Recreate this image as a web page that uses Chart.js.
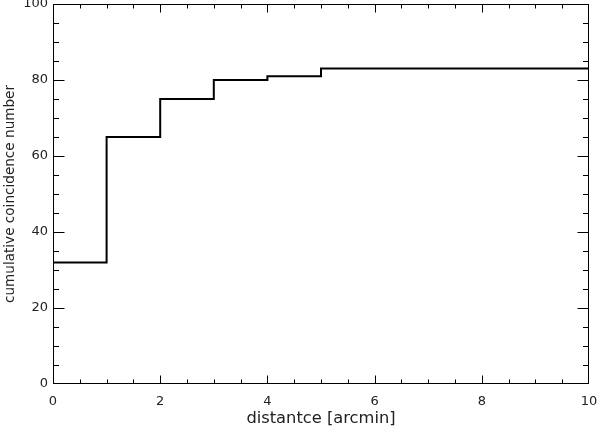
<!DOCTYPE html>
<html>
<head>
<meta charset="utf-8">
<script src="https://cdn.jsdelivr.net/npm/chart.js@4/dist/chart.umd.min.js"></script>
<style>
  html, body { margin: 0; padding: 0; background: #fff; }
  #wrap { width: 600px; height: 432px; }
</style>
</head>
<body>
<div id="wrap"><canvas id="grafico"></canvas></div>
<script>
// datos
const distancias = [0, 1, 2, 3, 4, 5, 10];
const coincidencias = [32, 65, 75, 80, 81, 83, 83];
const xTicks = [0, 2, 4, 6, 8, 10];
const yTicks = [0, 20, 40, 60, 80, 100];
const xMinorStep = 0.5;
const yMinorStep = 5;

const puntos = distancias.map((d, i) => ({ x: d, y: coincidencias[i] }));

// marcas hacia adentro en los cuatro lados, estilo IDL
const marcasInternas = {
    id: 'marcasInternas',
    afterDraw(chart) {
        const ctx = chart.ctx;
        const a = chart.chartArea;
        const sx = chart.scales.x, sy = chart.scales.y;
        const izq = Math.round(a.left) + 0.5, der = Math.round(a.right) - 0.5;
        const arr = Math.round(a.top) + 0.5, aba = Math.round(a.bottom) - 0.5;
        ctx.save();
        ctx.strokeStyle = '#000';
        ctx.lineWidth = 1;
        ctx.strokeRect(izq, arr, der - izq, aba - arr);
        ctx.beginPath();
        for (let v = sx.min; v <= sx.max + 1e-9; v += xMinorStep) {
            const px = Math.min(der, Math.max(izq, Math.round(sx.getPixelForValue(v)) + 0.5));
            const len = xTicks.includes(v) ? 8 : 4;
            ctx.moveTo(px, aba); ctx.lineTo(px, aba - len);
            ctx.moveTo(px, arr); ctx.lineTo(px, arr + len);
        }
        for (let v = sy.min; v <= sy.max + 1e-9; v += yMinorStep) {
            const py = Math.min(aba, Math.max(arr, Math.round(sy.getPixelForValue(v)) + 0.5));
            const len = yTicks.includes(v) ? 11 : 5.5;
            ctx.moveTo(izq, py); ctx.lineTo(izq + len, py);
            ctx.moveTo(der, py); ctx.lineTo(der - len, py);
        }
        ctx.stroke();
        ctx.restore();
    }
};

const fuente = { family: 'DejaVu Sans', size: 13 };

new Chart(document.getElementById('grafico').getContext('2d'), {
    type: 'line',
    data: {
        datasets: [{
            data: puntos,
            stepped: 'before',
            borderColor: '#000',
            borderWidth: 2,
            pointRadius: 0,
            fill: false
        }]
    },
    options: {
        responsive: true,
        maintainAspectRatio: false,
        animation: false,
        layout: { padding: { top: 4, right: 11, left: 0, bottom: 0 } },
        plugins: {
            legend: { display: false },
            tooltip: { enabled: false }
        },
        scales: {
            x: {
                type: 'linear',
                min: 0,
                max: 10,
                grid: { display: false, drawTicks: false },
                border: { display: false },
                afterBuildTicks: s => { s.ticks = xTicks.map(v => ({ value: v })); },
                afterFit: s => {
                    s.height = 48;
                    s.paddingLeft = 0;
                    s.paddingRight = 0;
                },
                ticks: { font: fuente, color: '#222', padding: 10, maxRotation: 0 },
                title: {
                    display: true,
                    text: 'distantce [arcmin]',
                    font: { family: 'DejaVu Sans', size: 16.3 },
                    color: '#222',
                    padding: { top: 0, bottom: 3 }
                }
            },
            y: {
                min: 0,
                max: 100,
                grid: { display: false, drawTicks: false },
                border: { display: false },
                afterBuildTicks: s => { s.ticks = yTicks.map(v => ({ value: v })); },
                afterFit: s => {
                    s.width = 53;
                    s.paddingTop = 0;
                    s.paddingBottom = 0;
                },
                ticks: { font: fuente, color: '#222', padding: 5 },
                title: {
                    display: true,
                    text: 'cumulative coincidence number',
                    font: { family: 'DejaVu Sans', size: 13.6 },
                    color: '#222',
                    padding: { top: 2, bottom: 0 }
                }
            }
        }
    },
    plugins: [marcasInternas]
});
</script>
</body>
</html>
